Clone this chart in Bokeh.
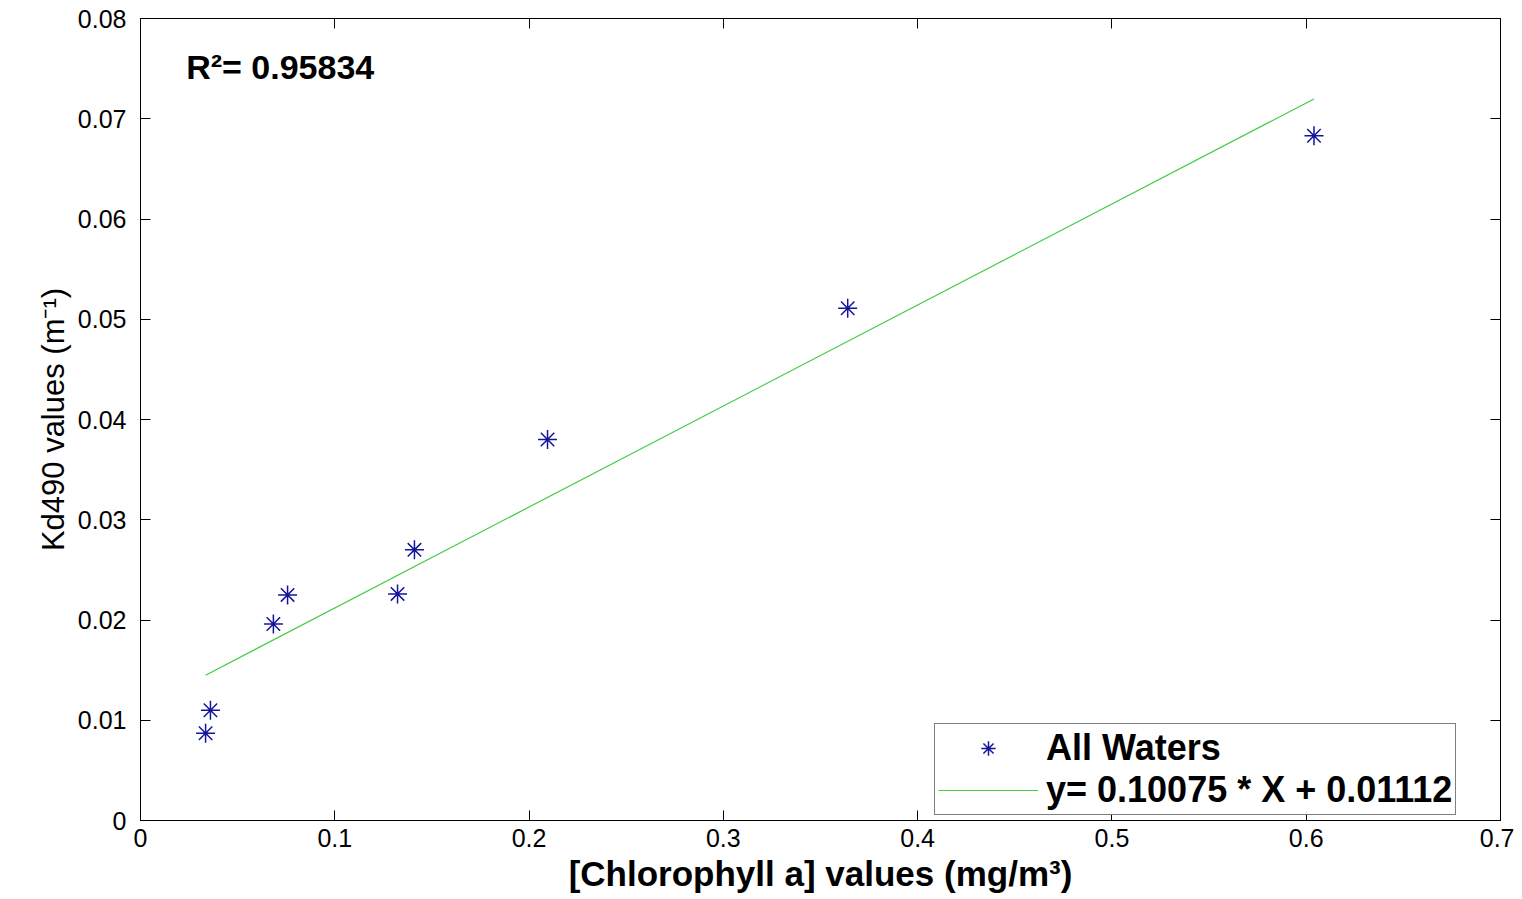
from bokeh.plotting import figure
from bokeh.models import LinearAxis, Range1d, Legend, LegendItem, Label, FixedTicker
from bokeh.embed import file_html
from bokeh.resources import INLINE

# data
chl = [0.0335, 0.036, 0.0684, 0.0757, 0.1323, 0.141, 0.2095, 0.364, 0.604]
kd490 = [0.0087, 0.0110, 0.0196, 0.0225, 0.0226, 0.0270, 0.0380, 0.0511, 0.0683]
slope = 0.10075
intercept = 0.01112
r2 = 0.95834
x_ticks = [0, 0.1, 0.2, 0.3, 0.4, 0.5, 0.6, 0.7]
y_ticks = [0, 0.01, 0.02, 0.03, 0.04, 0.05, 0.06, 0.07, 0.08]

fit_x = [min(chl), max(chl)]
fit_y = [slope * v + intercept for v in fit_x]

FONT = "Liberation Sans"

p = figure(width=1514, height=895, output_backend="svg", toolbar_location=None,
           x_range=Range1d(0, 0.7), y_range=Range1d(0, 0.08),
           min_border_left=140, min_border_right=14, min_border_top=18, min_border_bottom=73)
p.xgrid.visible = False
p.ygrid.visible = False
p.outline_line_color = "black"
p.outline_line_width = 1

pts = p.scatter(chl, kd490, marker="asterisk", size=19, line_color="#14149a", line_width=1.5)
ln = p.line(fit_x, fit_y, line_color="#44cc44", line_width=1.2)

for ax, ticks in ((p.xaxis[0], x_ticks), (p.yaxis[0], y_ticks)):
    ax.ticker = FixedTicker(ticks=ticks)
    ax.major_tick_in = 10
    ax.major_tick_out = 0
    ax.minor_tick_in = 0
    ax.minor_tick_out = 0
    ax.axis_line_color = "black"
    ax.major_label_text_font = FONT
    ax.major_label_text_font_size = "25px"
    ax.major_label_text_color = "black"
    ax.axis_label_text_font = FONT
    ax.axis_label_text_font_style = "normal"
    ax.axis_label_text_font_size = "31px"
    ax.axis_label_text_color = "black"

p.xaxis[0].major_label_overrides = {0: "0", 0.1: "0.1", 0.2: "0.2", 0.3: "0.3", 0.4: "0.4",
                                    0.5: "0.5", 0.6: "0.6", 0.7: "0.7"}
p.yaxis[0].major_label_overrides = {0: "0", 0.01: "0.01", 0.02: "0.02", 0.03: "0.03", 0.04: "0.04",
                                    0.05: "0.05", 0.06: "0.06", 0.07: "0.07", 0.08: "0.08"}
p.xaxis[0].major_label_standoff = 8
p.yaxis[0].major_label_standoff = 14
p.xaxis[0].axis_label = "[Chlorophyll a] values (mg/m³)"
p.xaxis[0].axis_label_text_font_style = "bold"
p.xaxis[0].axis_label_text_font_size = "35px"
p.xaxis[0].axis_label_standoff = 4
p.yaxis[0].axis_label = "Kd490 values (m⁻¹)"
p.yaxis[0].axis_label_standoff = 4

top = LinearAxis(ticker=FixedTicker(ticks=x_ticks), major_label_text_font_size="0px",
                 major_tick_in=10, major_tick_out=0, minor_tick_in=0, minor_tick_out=0,
                 axis_line_color="black")
right = LinearAxis(ticker=FixedTicker(ticks=y_ticks), major_label_text_font_size="0px",
                   major_tick_in=10, major_tick_out=0, minor_tick_in=0, minor_tick_out=0,
                   axis_line_color="black")
p.add_layout(top, "above")
p.add_layout(right, "right")

p.add_layout(Label(x=0.0235, y=0.0752, text=f"R²= {r2}", text_font=FONT, text_font_style="bold",
                   text_font_size="34px", text_baseline="middle", text_color="black"))

legend = Legend(items=[LegendItem(label="All Waters", renderers=[pts]),
                       LegendItem(label=f"y= {slope} * X + {intercept}", renderers=[ln])],
                location=(794, 5), glyph_width=100, glyph_height=36,
                label_text_font=FONT, label_text_font_style="bold", label_text_font_size="36px",
                label_text_color="black",
                label_standoff=8, padding=3, spacing=0, margin=0,
                border_line_color="black", border_line_width=1,
                background_fill_color="white", label_height=36)
p.add_layout(legend, "center")

open("out.html", "w").write(file_html(p, INLINE))
